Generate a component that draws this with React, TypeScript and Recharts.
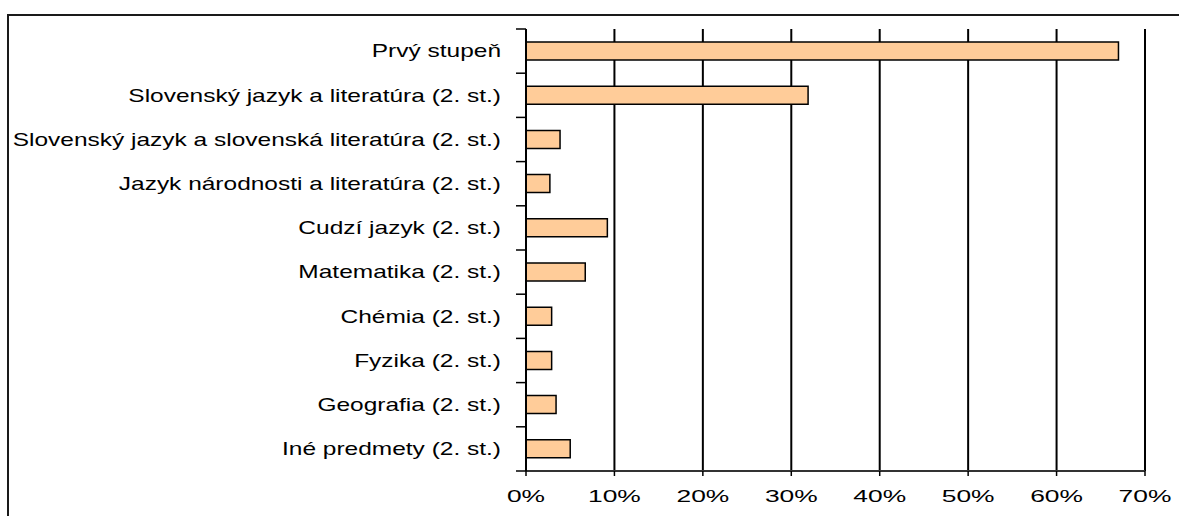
import { BarChart, Bar, XAxis, YAxis, CartesianGrid } from 'recharts'

// Rozdelenie podľa stupňa / predmetu (podiel v %)
const categories = [
  'Prvý stupeň',
  'Slovenský jazyk a literatúra (2. st.)',
  'Slovenský jazyk a slovenská literatúra (2. st.)',
  'Jazyk národnosti a literatúra (2. st.)',
  'Cudzí jazyk (2. st.)',
  'Matematika (2. st.)',
  'Chémia (2. st.)',
  'Fyzika (2. st.)',
  'Geografia (2. st.)',
  'Iné predmety (2. st.)',
]
const shares = [0.67, 0.319, 0.0385, 0.027, 0.092, 0.067, 0.029, 0.029, 0.034, 0.05]
const xTicks = [0, 0.1, 0.2, 0.3, 0.4, 0.5, 0.6, 0.7]

const data = categories.map((name, i) => ({ name, share: shares[i] }))

const FONT = '"Liberation Sans", Arial, sans-serif'
const Y_STRETCH = 1.4
const X_STRETCH = 1.6

function CategoryTick(props: any) {
  const { x, y, payload, index, visibleTicksCount } = props
  const half = payload.offset ?? 22.1
  return (
    <g>
      <line x1={x - 10} x2={x} y1={y - half} y2={y - half} stroke="#000" strokeWidth={1.5} />
      {index === visibleTicksCount - 1 && (
        <line x1={x - 10} x2={x} y1={y + half} y2={y + half} stroke="#000" strokeWidth={1.5} />
      )}
      <g transform={`translate(${x - 25},${y}) scale(${Y_STRETCH},1)`}>
        <text x={0} y={0} dy="0.36em" textAnchor="end" fill="#000" fontSize={17.5} fontFamily={FONT}>
          {payload.value}
        </text>
      </g>
    </g>
  )
}

function PercentTick(props: any) {
  const { x, y, payload } = props
  return (
    <g transform={`translate(${x},${y}) scale(${X_STRETCH},1)`}>
      <text x={0} y={0} dy="0.71em" textAnchor="middle" fill="#000" fontSize={16.5} fontFamily={FONT}>
        {Math.round(payload.value * 100)}%
      </text>
    </g>
  )
}

export default function App() {
  return (
    <div style={{ position: 'absolute', left: 0, top: 0, width: 1179, height: 516, background: '#fff', overflow: 'hidden' }}>
      <div
        style={{
          position: 'absolute',
          left: 7,
          top: 14,
          width: 1200,
          height: 540,
          borderLeft: '2px solid #1a1a1a',
          borderTop: '2px solid #1a1a1a',
        }}
      />
      <div style={{ position: 'absolute', left: 0, top: 0 }}>
        <BarChart
          width={1179}
          height={516}
          data={data}
          layout="vertical"
          margin={{ top: 29, right: 34, bottom: 0, left: 0 }}
        >
          <CartesianGrid horizontal={false} stroke="#000" strokeWidth={2} />
          <XAxis
            type="number"
            domain={[0, 0.7]}
            ticks={xTicks}
            height={45}
            tickSize={5}
            tickMargin={14}
            axisLine={{ stroke: '#333', strokeWidth: 2 }}
            tickLine={{ stroke: '#000', strokeWidth: 1.5 }}
            tick={<PercentTick />}
          />
          <YAxis
            type="category"
            dataKey="name"
            width={526}
            tickSize={0}
            tickMargin={0}
            tickLine={false}
            axisLine={{ stroke: '#000', strokeWidth: 2 }}
            tick={<CategoryTick />}
            interval={0}
          />
          <Bar dataKey="share" fill="#FFCC99" stroke="#000" strokeWidth={1.5} barSize={18} isAnimationActive={false} />
        </BarChart>
      </div>
    </div>
  )
}
